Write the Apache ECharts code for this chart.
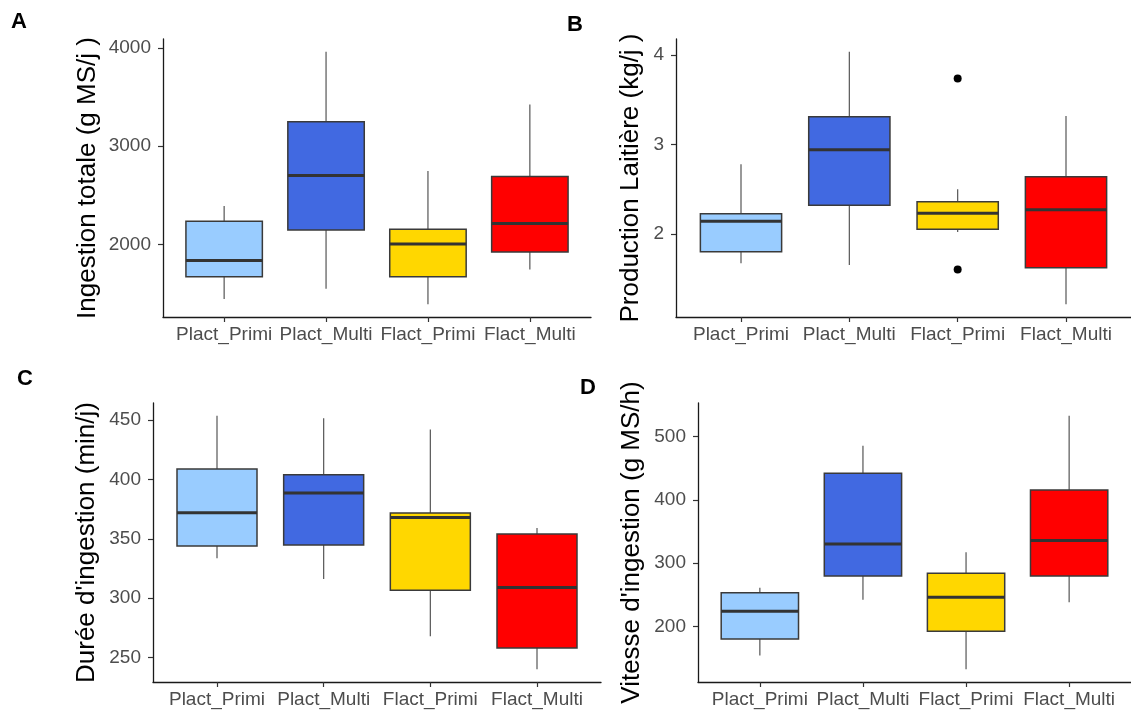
<!DOCTYPE html>
<html>
<head>
<meta charset="utf-8">
<script src="https://cdn.jsdelivr.net/npm/echarts@6/dist/echarts.min.js"></script>
<style>
  html, body { margin: 0; padding: 0; background: #fff; }
  #chart { width: 1131px; height: 712px; }
</style>
</head>
<body>
<div id="chart"></div>
<script>
// ---- Data ----
const categories = ['Plact_Primi', 'Plact_Multi', 'Flact_Primi', 'Flact_Multi'];
const boxColors = ['#99CCFF', '#4169E1', '#FFD700', '#FF0000'];

// each row: [lower whisker, Q1, median, Q3, upper whisker]
const ingestionTotale = [
  [1442, 1670, 1834, 2235, 2391],
  [1548, 2146, 2700, 3248, 3963],
  [1388, 1670, 2003, 2153, 2748],
  [1742, 1922, 2211, 2690, 3425]
];
const productionLaitiere = [
  [1.67, 1.80, 2.14, 2.225, 2.78],
  [1.65, 2.32, 2.94, 3.31, 4.04],
  [2.02, 2.05, 2.23, 2.36, 2.50],
  [1.21, 1.62, 2.27, 2.64, 3.32]
];
const productionOutliers = [[3, 3.74], [3, 1.60]];
const dureeIngestion = [
  [333.5, 344, 372, 408.7, 453.7],
  [316, 344.8, 388.6, 404, 451.5],
  [267.8, 306.6, 368, 371.6, 442],
  [240, 258, 309, 354, 359]
];
const vitesseIngestion = [
  [154, 180, 224, 253, 261],
  [242, 279.5, 330, 442, 485.5],
  [132, 192, 246, 284, 317],
  [238, 279.5, 335.6, 415.6, 533]
];

const ticksA = [2000, 3000, 4000];
const ticksB = [2, 3, 4];
const ticksC = [250, 300, 350, 400, 450];
const ticksD = [200, 300, 400, 500];

const titles = [
  'Ingestion totale (g MS/j )',
  'Production Laitière (kg/j )',
  "Durée d'ingestion (min/j)",
  "Vitesse d'ingestion (g MS/h)"
];
const panelLetters = ['A', 'B', 'C', 'D'];

// ---- Chart ----
const FONT = 'Liberation Sans, Arial, sans-serif';
const chart = echarts.init(document.getElementById('chart'), null, { renderer: 'canvas' });

const panels = [
  { data: ingestionTotale, ticks: ticksA, outliers: [], grid: { left: 163, top: 39, width: 428, height: 278 }, nameGap: 62 },
  { data: productionLaitiere, ticks: ticksB, outliers: productionOutliers, grid: { left: 676, top: 39, width: 462, height: 278 }, nameGap: 32 },
  { data: dureeIngestion, ticks: ticksC, outliers: [], grid: { left: 153, top: 403, width: 448, height: 279 }, nameGap: 53 },
  { data: vitesseIngestion, ticks: ticksD, outliers: [], grid: { left: 698, top: 403, width: 441, height: 279 }, nameGap: 53 }
];

function extent(p) {
  let lo = Infinity, hi = -Infinity;
  p.data.forEach(r => { lo = Math.min(lo, r[0]); hi = Math.max(hi, r[4]); });
  p.outliers.forEach(o => { lo = Math.min(lo, o[1]); hi = Math.max(hi, o[1]); });
  const pad = (hi - lo) * 0.05;
  return [lo - pad, hi + pad];
}

function renderBox(params, api) {
  const x = api.value(0);
  const lo = api.coord([x, api.value(1)]);
  const q1 = api.coord([x, api.value(2)]);
  const med = api.coord([x, api.value(3)]);
  const q3 = api.coord([x, api.value(4)]);
  const hi = api.coord([x, api.value(5)]);
  const w = api.size([0.75, 0])[0];
  const cx = q1[0];
  return {
    type: 'group',
    children: [
      { type: 'line', shape: { x1: cx, y1: hi[1], x2: cx, y2: q3[1] }, style: { stroke: '#555', lineWidth: 1.2 } },
      { type: 'line', shape: { x1: cx, y1: q1[1], x2: cx, y2: lo[1] }, style: { stroke: '#555', lineWidth: 1.2 } },
      { type: 'rect', shape: { x: cx - w / 2, y: q3[1], width: w, height: q1[1] - q3[1] },
        style: { fill: boxColors[params.dataIndex], stroke: '#3a3a3a', lineWidth: 1.5 } },
      { type: 'line', shape: { x1: cx - w / 2, y1: med[1], x2: cx + w / 2, y2: med[1] },
        style: { stroke: '#333', lineWidth: 3 } }
    ]
  };
}

const grids = [], xAxes = [], yAxes = [], series = [], graphics = [];
panels.forEach((p, i) => {
  grids.push(Object.assign({ containLabel: false }, p.grid));
  xAxes.push({
    type: 'value', gridIndex: i, min: 0.4, max: 4.6,
    axisLine: { show: true, onZero: false, lineStyle: { color: '#1a1a1a', width: 1.3 } },
    axisTick: { show: true, customValues: [1, 2, 3, 4], length: 5, lineStyle: { color: '#333', width: 1.2 } },
    axisLabel: { customValues: [1, 2, 3, 4], formatter: v => categories[Math.round(v) - 1],
      fontSize: 19, color: '#4d4d4d', margin: 8, fontFamily: FONT },
    splitLine: { show: false }
  });
  const ext = extent(p);
  yAxes.push({
    type: 'value', gridIndex: i, min: ext[0], max: ext[1],
    name: titles[i], nameLocation: 'middle', nameGap: p.nameGap,
    nameTextStyle: { fontSize: 26, color: '#000', fontFamily: FONT },
    axisLine: { show: true, onZero: false, lineStyle: { color: '#1a1a1a', width: 1.3 } },
    axisTick: { show: true, customValues: p.ticks, length: 5, lineStyle: { color: '#333', width: 1.2 } },
    axisLabel: { customValues: p.ticks, formatter: v => String(v),
      fontSize: 19, color: '#4d4d4d', margin: 12, fontFamily: FONT },
    splitLine: { show: false }
  });
  series.push({
    type: 'custom', xAxisIndex: i, yAxisIndex: i,
    renderItem: renderBox,
    data: p.data.map((r, k) => [k + 1].concat(r)),
    silent: true
  });
  if (p.outliers.length) {
    series.push({
      type: 'scatter', xAxisIndex: i, yAxisIndex: i,
      data: p.outliers, symbol: 'circle', symbolSize: 8,
      itemStyle: { color: '#000', opacity: 1 }, silent: true
    });
  }
});

const letterPos = [[11, 11], [567, 14], [17, 368], [580, 377]];
panelLetters.forEach((t, i) => {
  graphics.push({
    type: 'text', left: letterPos[i][0], top: letterPos[i][1],
    style: { text: t, font: 'bold 22px ' + FONT, fill: '#000' }
  });
});

chart.setOption({
  backgroundColor: '#fff',
  animation: false,
  grid: grids,
  xAxis: xAxes,
  yAxis: yAxes,
  series: series,
  graphic: graphics
});
</script>
</body>
</html>
